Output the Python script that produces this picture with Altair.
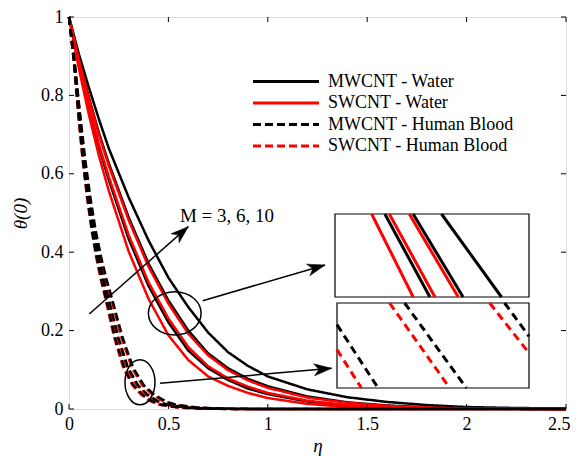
import altair as alt
import pandas as pd

FONT = "Liberation Serif"

# ---------------- data ----------------
X_TICKS = [0, 0.5, 1, 1.5, 2, 2.5]
Y_TICKS = [0, 0.2, 0.4, 0.6, 0.8, 1]

SERIES = ["MWCNT - Water", "SWCNT - Water", "MWCNT - Human Blood", "SWCNT - Human Blood"]
M_VALUES = [3, 6, 10]

# water curves: common eta grid, theta per curve
ETA_WATER = [0, 0.05, 0.1, 0.15, 0.2, 0.3, 0.4, 0.5, 0.6, 0.7, 0.8, 0.9, 1.0, 1.2, 1.4, 1.6, 1.8, 2.0, 2.2, 2.5]
MW_WATER_M3 = [1, .878, .769, .668, .585, .434, .314, .221, .149, .104, .074, .052, .038, .019, .0088, .0039, .0015, .0008, .0004, 0]
MW_WATER_M6 = [1, .892, .795, .705, .627, .489, .371, .277, .200, .142, .104, .077, .058, .032, .017, .009, .0042, .0021, .0011, .0002]
MW_WATER_M10 = [1, .905, .82, .74, .665, .54, .43, .335, .26, .195, .145, .11, .083, .05, .03, .018, .01, .005, .003, .001]
SW_WATER_M3 = [1, .868, .751, .647, .557, .402, .281, .188, .125, .083, .059, .041, .028, .013, .005, .0025, .0015, .001, .0005, 0]
SW_WATER_M6 = [1, .880, .774, .675, .593, .444, .323, .231, .158, .109, .078, .057, .041, .021, .0099, .0044, .0022, .0009, .0005, 0]
SW_WATER_M10 = [1, .890, .792, .700, .621, .482, .363, .269, .192, .137, .099, .073, .054, .029, .016, .008, .0038, .0017, .0009, 0]

# human blood curves: common theta levels, eta per curve
THETA_BLOOD = [1, .894, .76, .638, .538, .455, .389, .332, .284, .183, .105, .061, .036, .020, .011, .0038, .0013, .0004, 0, 0]
SW_BLOOD_M3 = [0, .023, .045, .068, .091, .114, .136, .159, .182, .227, .273, .318, .364, .409, .455, .545, .636, .727, .909, 2.5]
MW_BLOOD_M3 = [0, .023, .046, .069, .093, .116, .139, .162, .185, .231, .278, .324, .370, .417, .463, .556, .648, .741, .926, 2.5]
SW_BLOOD_M6 = [0, .024, .049, .073, .097, .121, .146, .170, .194, .243, .291, .340, .388, .437, .485, .583, .680, .777, .971, 2.5]
MW_BLOOD_M6 = [0, .025, .050, .074, .099, .124, .149, .173, .198, .248, .297, .347, .396, .446, .495, .594, .693, .792, .990, 2.5]
SW_BLOOD_M10 = [0, .026, .053, .079, .105, .132, .158, .184, .211, .263, .316, .368, .421, .474, .526, .632, .737, .842, 1.053, 2.5]
MW_BLOOD_M10 = [0, .027, .054, .081, .108, .134, .161, .188, .215, .269, .323, .376, .430, .484, .538, .645, .753, .860, 1.075, 2.5]

# insets: straight segments, in fractions of the inset box (x right, y up)
INSET1_X1 = [0.189, 0.257, 0.280, 0.383, 0.403, 0.549]
INSET1_Y1 = [1, 1, 1, 1, 1, 1]
INSET1_X2 = [0.403, 0.489, 0.515, 0.635, 0.660, 0.858]
INSET1_Y2 = [0, 0, 0, 0, 0, 0]
INSET1_COL = ["red", "black", "red", "red", "black", "black"]

INSET2_X1 = [0, 0, 0.274, 0.352, 0.795, 0.873]
INSET2_Y1 = [0.745, 0.451, 1, 1, 1, 1]
INSET2_X2 = [0.214, 0.127, 0.587, 0.674, 1, 1]
INSET2_Y2 = [0, 0, 0, 0, 0.412, 0.608]
INSET2_COL = ["black", "red", "red", "black", "red", "black"]

# annotations (data coordinates)
ELLIPSE_ETA = [0.532, 0.357]
ELLIPSE_THETA = [0.244, 0.068]
ARROW_ETA1 = [0.102, 0.6725, 0.458]
ARROW_THETA1 = [0.2423, 0.2763, 0.0656]
ARROW_ETA2 = [0.600, 1.288, 1.321]
ARROW_THETA2 = [0.4651, 0.3673, 0.1038]
ARROW_ANGLE = [48.6, 73.7, 85.0]
LABEL_TEXT = ["M = 3, 6, 10"]
LABEL_ETA = [0.558]
LABEL_THETA = [0.478]

# ---------------- tables ----------------
rows = []
water = {("MWCNT - Water", 3): MW_WATER_M3, ("MWCNT - Water", 6): MW_WATER_M6, ("MWCNT - Water", 10): MW_WATER_M10,
         ("SWCNT - Water", 3): SW_WATER_M3, ("SWCNT - Water", 6): SW_WATER_M6, ("SWCNT - Water", 10): SW_WATER_M10}
for (s, m), th in water.items():
    for e, t in zip(ETA_WATER, th):
        rows.append({"series": s, "M": m, "curve": f"{s}|{m}", "eta": e, "theta": t})
blood = {("SWCNT - Human Blood", 3): SW_BLOOD_M3, ("SWCNT - Human Blood", 6): SW_BLOOD_M6, ("SWCNT - Human Blood", 10): SW_BLOOD_M10,
         ("MWCNT - Human Blood", 3): MW_BLOOD_M3, ("MWCNT - Human Blood", 6): MW_BLOOD_M6, ("MWCNT - Human Blood", 10): MW_BLOOD_M10}
for (s, m), et in blood.items():
    for e, t in zip(et, THETA_BLOOD):
        rows.append({"series": s, "M": m, "curve": f"{s}|{m}", "eta": e, "theta": t})
curves = pd.DataFrame(rows)

XS = alt.Scale(domain=[0, 2.5], nice=False, zero=False)
YS = alt.Scale(domain=[0, 1], nice=False, zero=False)

W, H = 497, 392

leg = alt.Legend(title=None, orient="none", legendX=208, legendY=55.5, padding=0,
                 labelFont=FONT, labelFontSize=18, labelColor="black", labelLimit=400,
                 labelOffset=33, symbolType="M-6.6,0H6.6", symbolSize=100, symbolStrokeWidth=3,
                 rowPadding=3.5, labelBaseline="middle", symbolOpacity=1)

x_axis = alt.Axis(values=X_TICKS, labelExpr="datum.value", ticks=False, domain=False, grid=False,
                  labelFont=FONT, labelFontSize=18, labelColor="black", labelPadding=6,
                  labelFlush=False, labelOverlap=False,
                  labelAlign={"condition": {"test": "datum.value == 2.5", "value": "right"}, "value": "center"},
                  labelOffset={"condition": {"test": "datum.value == 2.5", "value": 4}, "value": 0},
                  title="η", titleFont=FONT, titleFontSize=19, titleFontStyle="italic",
                  titleFontWeight="normal", titleColor="black", titlePadding=3)
y_axis = alt.Axis(values=Y_TICKS, labelExpr="datum.value", ticks=False, domain=False, grid=False,
                  labelFont=FONT, labelFontSize=18, labelColor="black", labelPadding=6,
                  labelFlush=False, labelOverlap=False,
                  title="θ(0)", titleFont=FONT, titleFontSize=19, titleFontStyle="italic",
                  titleFontWeight="normal", titleColor="black", titlePadding=10)

lines = alt.Chart(curves).mark_line(strokeWidth=2.5).encode(
    x=alt.X("eta:Q", scale=XS, axis=x_axis),
    y=alt.Y("theta:Q", scale=YS, axis=y_axis),
    color=alt.Color("series:N", scale=alt.Scale(domain=SERIES, range=["black", "red", "black", "red"]), legend=leg),
    strokeDash=alt.StrokeDash("series:N", scale=alt.Scale(domain=SERIES, range=[[1, 0], [1, 0], [8, 4], [8, 4]]), legend=leg),
    detail="curve:N",
)

# inward ticks on all four sides
xt = pd.DataFrame({"v": X_TICKS})
yt = pd.DataFrame({"v": Y_TICKS})
tick_b = alt.Chart(xt).mark_rule(color="black", strokeWidth=1).encode(
    x=alt.X("v:Q", scale=XS, axis=None), y=alt.value(H), y2=alt.value(H - 5))
tick_t = alt.Chart(xt).mark_rule(color="black", strokeWidth=1).encode(
    x=alt.X("v:Q", scale=XS, axis=None), y=alt.value(0), y2=alt.value(5))
tick_l = alt.Chart(yt).mark_rule(color="black", strokeWidth=1).encode(
    y=alt.Y("v:Q", scale=YS, axis=None), x=alt.value(0), x2=alt.value(5))
tick_r = alt.Chart(yt).mark_rule(color="black", strokeWidth=1).encode(
    y=alt.Y("v:Q", scale=YS, axis=None), x=alt.value(W), x2=alt.value(W - 5))

# annotations
ell1 = alt.Chart(pd.DataFrame({"eta": ELLIPSE_ETA[:1], "theta": ELLIPSE_THETA[:1]})).mark_point(
    shape="M-1,0A1,0.822,0,1,1,1,0A1,0.822,0,1,1,-1,0Z", size=2777, filled=False,
    stroke="black", strokeWidth=1.5, opacity=1).encode(
    x=alt.X("eta:Q", scale=XS, axis=None), y=alt.Y("theta:Q", scale=YS, axis=None))
ell2 = alt.Chart(pd.DataFrame({"eta": ELLIPSE_ETA[1:], "theta": ELLIPSE_THETA[1:]})).mark_point(
    shape="M0,-1A0.667,1,0,1,1,0,1A0.667,1,0,1,1,0,-1Z", size=2025, filled=False,
    stroke="black", strokeWidth=1.5, opacity=1).encode(
    x=alt.X("eta:Q", scale=XS, axis=None), y=alt.Y("theta:Q", scale=YS, axis=None))

arr = pd.DataFrame({"e1": ARROW_ETA1, "t1": ARROW_THETA1, "e2": ARROW_ETA2, "t2": ARROW_THETA2, "ang": ARROW_ANGLE})
arrow_lines = alt.Chart(arr).mark_rule(color="black", strokeWidth=1.5).encode(
    x=alt.X("e1:Q", scale=XS, axis=None), y=alt.Y("t1:Q", scale=YS, axis=None),
    x2="e2:Q", y2="t2:Q")
arrow_heads = alt.Chart(arr).mark_point(
    shape="M0,0L0.55,1.6L0,1.15L-0.55,1.6Z", size=484, filled=True, fill="black",
    stroke="black", strokeWidth=0.5, opacity=1).encode(
    x=alt.X("e2:Q", scale=XS, axis=None), y=alt.Y("t2:Q", scale=YS, axis=None),
    angle=alt.Angle("ang:Q", scale=None))

label = alt.Chart(pd.DataFrame({"txt": LABEL_TEXT, "eta": LABEL_ETA, "theta": LABEL_THETA})).mark_text(
    align="left", baseline="alphabetic", font=FONT, fontSize=19, color="black").encode(
    x=alt.X("eta:Q", scale=XS, axis=None), y=alt.Y("theta:Q", scale=YS, axis=None), text="txt:N")

# insets
def inset_layers(x1, y1, x2, y2, cols, xr, yr, dash):
    ix = alt.Scale(domain=[0, 1], range=xr, nice=False, zero=False)
    iy = alt.Scale(domain=[0, 1], range=yr, nice=False, zero=False)
    box = alt.Chart(pd.DataFrame({"a": [0], "b": [1], "c": [0], "d": [1]})).mark_rect(
        fill="white", stroke="black", strokeWidth=1.2).encode(
        x=alt.X("a:Q", scale=ix, axis=None), x2="b:Q",
        y=alt.Y("c:Q", scale=iy, axis=None), y2="d:Q")
    seg_df = pd.DataFrame({"x1": x1, "y1": y1, "x2": x2, "y2": y2, "col": cols})
    mk = dict(strokeWidth=3)
    if dash:
        mk["strokeDash"] = [8, 5]
    segs = alt.Chart(seg_df).mark_rule(**mk).encode(
        x=alt.X("x1:Q", scale=ix, axis=None), y=alt.Y("y1:Q", scale=iy, axis=None),
        x2="x2:Q", y2="y2:Q", color=alt.Color("col:N", scale=None))
    return [box, segs]

ins1 = inset_layers(INSET1_X1, INSET1_Y1, INSET1_X2, INSET1_Y2, INSET1_COL, [266, 460], [280, 197], False)
ins2 = inset_layers(INSET2_X1, INSET2_Y1, INSET2_X2, INSET2_Y2, INSET2_COL, [268, 460], [371, 286], True)

chart = alt.layer(
    lines, tick_b, tick_t, tick_l, tick_r, ell1, ell2, arrow_lines, arrow_heads, label, *ins1, *ins2
).resolve_scale(x="independent", y="independent").properties(
    width=W, height=H,
    padding={"left": 69, "top": 17, "right": 10, "bottom": 47},
    autosize=alt.AutoSizeParams(type="none"),
).configure_view(stroke="black", strokeWidth=1).configure_axis(
    labelFont=FONT, titleFont=FONT
).configure(background="white")

chart.save("out.html", embed_options={"renderer": "svg", "actions": False})
